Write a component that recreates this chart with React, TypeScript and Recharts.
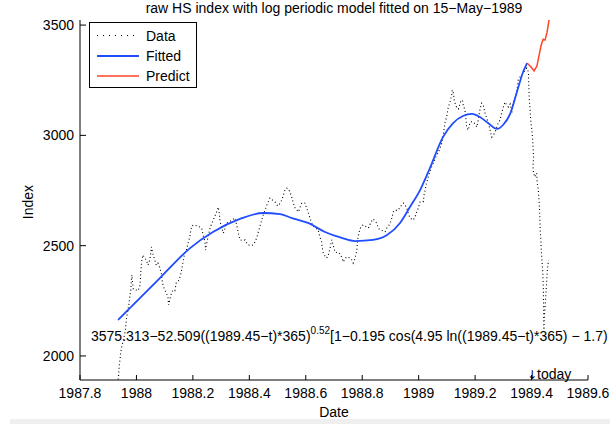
import React from 'react';
import { LineChart, Line, XAxis, YAxis, Legend } from 'recharts';

const FONT = '"Liberation Sans", Arial, Helvetica, sans-serif';

const seriesNames = ['Data', 'Fitted', 'Predict'];
const titleText = 'raw HS index with log periodic model fitted on 15\u2212May\u22121989';
const xTicks = [1987.8, 1988, 1988.2, 1988.4, 1988.6, 1988.8, 1989, 1989.2, 1989.4, 1989.6];
const yTicks = [2000, 2500, 3000, 3500];
const xDomain = [1987.8, 1989.6];
const yDomain = [1891, 3523];

const dataT = [
  1987.935,
  1987.937, 1987.939, 1987.942, 1987.944, 1987.947, 1987.951, 1987.956, 1987.961, 1987.964, 1987.968,
  1987.973, 1987.976, 1987.980, 1987.982, 1987.984, 1987.986, 1987.989, 1987.994, 1988.000, 1988.006,
  1988.012, 1988.014, 1988.015, 1988.017, 1988.019, 1988.023, 1988.029, 1988.035, 1988.041, 1988.047,
  1988.051, 1988.053, 1988.059, 1988.065, 1988.070, 1988.076, 1988.082, 1988.088, 1988.091, 1988.094,
  1988.100, 1988.106, 1988.112, 1988.114, 1988.118, 1988.124, 1988.130, 1988.136, 1988.141, 1988.147,
  1988.153, 1988.159, 1988.165, 1988.171, 1988.177, 1988.183, 1988.189, 1988.192, 1988.196, 1988.204,
  1988.214, 1988.222, 1988.231, 1988.237, 1988.243, 1988.245, 1988.250, 1988.255, 1988.262, 1988.272,
  1988.278, 1988.284, 1988.290, 1988.294, 1988.296, 1988.302, 1988.308, 1988.314, 1988.320, 1988.326,
  1988.332, 1988.340, 1988.349, 1988.355, 1988.361, 1988.367, 1988.376, 1988.385, 1988.391, 1988.396,
  1988.406, 1988.414, 1988.420, 1988.426, 1988.432, 1988.438, 1988.444, 1988.450, 1988.456, 1988.462,
  1988.467, 1988.473, 1988.482, 1988.491, 1988.498, 1988.503, 1988.509, 1988.515, 1988.520, 1988.526,
  1988.532, 1988.538, 1988.544, 1988.550, 1988.556, 1988.562, 1988.568, 1988.574, 1988.580, 1988.586,
  1988.591, 1988.597, 1988.603, 1988.609, 1988.615, 1988.621, 1988.627, 1988.633, 1988.639, 1988.644,
  1988.650, 1988.656, 1988.658, 1988.662, 1988.668, 1988.674, 1988.680, 1988.686, 1988.692, 1988.698,
  1988.704, 1988.710, 1988.715, 1988.721, 1988.727, 1988.733, 1988.739, 1988.745, 1988.751, 1988.757,
  1988.763, 1988.768, 1988.775, 1988.781, 1988.783, 1988.786, 1988.792, 1988.798, 1988.804, 1988.810,
  1988.816, 1988.822, 1988.828, 1988.834, 1988.839, 1988.845, 1988.851, 1988.857, 1988.863, 1988.869,
  1988.875, 1988.881, 1988.887, 1988.893, 1988.899, 1988.905, 1988.910, 1988.916, 1988.922, 1988.928,
  1988.934, 1988.940, 1988.946, 1988.952, 1988.958, 1988.963, 1988.969, 1988.975, 1988.981, 1988.987,
  1988.993, 1988.999, 1989.005, 1989.011, 1989.017, 1989.019, 1989.023, 1989.026, 1989.030, 1989.034,
  1989.040, 1989.046, 1989.052, 1989.058, 1989.064, 1989.070, 1989.076, 1989.082, 1989.087, 1989.090,
  1989.093, 1989.099, 1989.102, 1989.105, 1989.111, 1989.117, 1989.119, 1989.123, 1989.126, 1989.131,
  1989.136, 1989.141, 1989.147, 1989.150, 1989.155, 1989.158, 1989.164, 1989.168, 1989.170, 1989.176,
  1989.182, 1989.188, 1989.194, 1989.200, 1989.206, 1989.211, 1989.217, 1989.223, 1989.229, 1989.235,
  1989.241, 1989.247, 1989.253, 1989.259, 1989.265, 1989.271, 1989.277, 1989.282, 1989.288, 1989.294,
  1989.300, 1989.306, 1989.312, 1989.318, 1989.324, 1989.330, 1989.335, 1989.341, 1989.347, 1989.353,
  1989.359, 1989.365, 1989.371, 1989.377, 1989.383, 1989.389, 1989.390, 1989.392, 1989.395, 1989.397,
  1989.401, 1989.404, 1989.406, 1989.407, 1989.405, 1989.407, 1989.412, 1989.418, 1989.420, 1989.424,
  1989.426, 1989.428, 1989.429, 1989.430, 1989.431, 1989.433, 1989.434, 1989.436, 1989.438, 1989.440,
  1989.441, 1989.442, 1989.442, 1989.443, 1989.443, 1989.443, 1989.444, 1989.445, 1989.448, 1989.451,
  1989.454, 1989.456, 1989.460,
];

const dataV = [
  1893,
  1918, 1955, 1986, 2013, 2036, 2059, 2086, 2118, 2163, 2195,
  2231, 2263, 2299, 2344, 2367, 2335, 2304, 2299, 2299, 2296,
  2317, 2344, 2376, 2408, 2435, 2458, 2444, 2435, 2412, 2435,
  2467, 2494, 2458, 2435, 2412, 2421, 2403, 2376, 2344, 2322,
  2299, 2285, 2263, 2231, 2254, 2285, 2299, 2296, 2331, 2335,
  2353, 2381, 2426, 2467, 2480, 2512, 2539, 2566, 2589, 2594,
  2590, 2586, 2580, 2544, 2517, 2480, 2517, 2548, 2585, 2616,
  2634, 2653, 2675, 2643, 2612, 2580, 2557, 2578, 2603, 2607,
  2611, 2616, 2625, 2594, 2557, 2526, 2524, 2526, 2512, 2503,
  2501, 2503, 2517, 2535, 2562, 2589, 2616, 2643, 2662, 2684,
  2698, 2716, 2707, 2698, 2684, 2680, 2693, 2707, 2725, 2752,
  2761, 2758, 2743, 2721, 2693, 2671, 2662, 2653, 2675, 2693,
  2695, 2693, 2671, 2648, 2625, 2603, 2589, 2580, 2576, 2571,
  2539, 2517, 2494, 2467, 2453, 2444, 2458, 2489, 2526, 2498,
  2471, 2469, 2471, 2462, 2449, 2426, 2440, 2449, 2447, 2444,
  2435, 2421, 2444, 2480, 2517, 2544, 2576, 2589, 2594, 2589,
  2585, 2580, 2598, 2612, 2621, 2610, 2603, 2580, 2571, 2569,
  2566, 2563, 2580, 2589, 2603, 2625, 2653, 2662, 2660, 2662,
  2675, 2684, 2693, 2684, 2671, 2648, 2625, 2621, 2616, 2630,
  2653, 2671, 2698, 2702, 2700, 2730, 2752, 2775, 2793, 2811,
  2838, 2857, 2875, 2893, 2911, 2924, 2943, 2965, 3001, 3024,
  3056, 3083, 3106, 3128, 3151, 3183, 3205, 3192, 3160, 3137,
  3124, 3119, 3146, 3156, 3160, 3137, 3115, 3069, 3033, 3024,
  3060, 3062, 3060, 3051, 3038, 3069, 3115, 3146, 3137, 3101,
  3079, 3056, 3024, 2992, 3002, 3015, 3038, 3056, 3069, 3101,
  3128, 3151, 3137, 3128, 3142, 3101, 3145, 3169, 3192, 3251,
  3264, 3273, 3282, 3296, 3305, 3287, 3237, 3160, 3115, 3069,
  3024, 2979, 2933, 2902, 2857, 2829, 2811, 2829, 2784, 2752,
  2716, 2675, 2639, 2603, 2562, 2526, 2489, 2449, 2412, 2376,
  2335, 2299, 2263, 2222, 2190, 2163, 2118, 2172, 2222, 2285,
  2344, 2390, 2435,
];

const fitT = [
  1987.935, 1988.083, 1988.190, 1988.271, 1988.367, 1988.448, 1988.509, 1988.551, 1988.608, 1988.668,
  1988.728, 1988.775, 1988.838, 1988.888, 1988.934, 1988.969, 1989.005, 1989.040, 1989.086, 1989.122,
  1989.157, 1989.189, 1989.217, 1989.246, 1989.278, 1989.299, 1989.324, 1989.352, 1989.370, 1989.384,
];
const fitV = [
  2163, 2353, 2489, 2562, 2621, 2648, 2643, 2625, 2603, 2562,
  2535, 2521, 2526, 2548, 2603, 2675, 2752, 2852, 2992, 3056,
  3088, 3097, 3083, 3056, 3029, 3047, 3097, 3214, 3287, 3328,
];

const predT = [1989.384, 1989.398, 1989.409, 1989.419, 1989.434, 1989.441, 1989.448, 1989.455, 1989.462];
const predV = [3328, 3310, 3292, 3314, 3409, 3436, 3432, 3468, 3523];

const dataPts = dataT.map((t, i) => ({ t, v: dataV[i] }));
const fitPts = fitT.map((t, i) => ({ t, v: fitV[i] }));
const predPts = predT.map((t, i) => ({ t, v: predV[i] }));

const BLUE = '#1f4dff';
const RED = '#ff4422';

const LegendBox = () => (
  <svg width={108} height={66} style={{ display: 'block' }}>
    <rect x={0.5} y={0.5} width={107} height={65} fill="#fff" stroke="#000" strokeWidth={1} />
    <line x1={8} x2={50} y1={13.5} y2={13.5} stroke="#000" strokeWidth={1} strokeDasharray="1 5" />
    <line x1={8} x2={50} y1={34} y2={34} stroke={BLUE} strokeWidth={2} />
    <line x1={8} x2={50} y1={54} y2={54} stroke={RED} strokeWidth={1.5} />
    <text x={57} y={18.5} fontSize={14} fontFamily={FONT} fill="#000">{seriesNames[0]}</text>
    <text x={57} y={39} fontSize={14} fontFamily={FONT} fill="#000">{seriesNames[1]}</text>
    <text x={57} y={59} fontSize={14} fontFamily={FONT} fill="#000">{seriesNames[2]}</text>
  </svg>
);

export default function App() {
  const tickStyle = { fill: '#000', fontSize: 14, fontFamily: FONT };
  return (
    <div style={{ position: 'absolute', left: 0, top: 0, width: 610, height: 424, background: '#fff', overflow: 'hidden' }}>
      <LineChart
        width={610}
        height={424}
        margin={{ top: 20, right: 22, bottom: 14, left: 20 }}
      >
        <XAxis
          type="number"
          dataKey="t"
          domain={xDomain}
          ticks={xTicks}
          allowDataOverflow
          height={30}
          tickSize={-5}
          tickMargin={13}
          tick={tickStyle}
          axisLine={{ stroke: '#000', strokeWidth: 1 }}
          tickLine={{ stroke: '#000' }}
          tickFormatter={(v) => String(v)}
          interval={0}
        />
        <YAxis
          type="number"
          dataKey="v"
          domain={yDomain}
          ticks={yTicks}
          allowDataOverflow
          width={60}
          tickSize={-6}
          tickMargin={12}
          tick={tickStyle}
          axisLine={{ stroke: '#000', strokeWidth: 1 }}
          tickLine={{ stroke: '#000' }}
          interval={0}
        />
        <Legend
          layout="horizontal"
          verticalAlign="middle"
          align="center"
          content={() => <LegendBox />}
          wrapperStyle={{ position: 'absolute', left: 89, top: 22, width: 108, height: 66 }}
        />
        <Line
          data={dataPts}
          dataKey="v"
          name={seriesNames[0]}
          stroke="#000"
          strokeWidth={1.1}
          strokeDasharray="1 2.6"
          dot={false}
          isAnimationActive={false}
          type="linear"
        />
        <Line
          data={fitPts}
          dataKey="v"
          name={seriesNames[1]}
          stroke={BLUE}
          strokeWidth={1.8}
          dot={false}
          isAnimationActive={false}
          type="monotone"
        />
        <Line
          data={predPts}
          dataKey="v"
          name={seriesNames[2]}
          stroke={RED}
          strokeWidth={1.5}
          dot={false}
          isAnimationActive={false}
          type="linear"
        />
      </LineChart>
      <svg
        width={610}
        height={424}
        style={{ position: 'absolute', left: 0, top: 0, pointerEvents: 'none' }}
      >
        <text x={334} y={13} textAnchor="middle" fontSize={14} fontFamily={FONT} fill="#000">{titleText}</text>
        <text x={91} y={341} fontSize={14} fontFamily={FONT} fill="#000">
          <tspan>3575.313{'\u2212'}52.509((1989.45{'\u2212'}t)*365)</tspan>
          <tspan fontSize={10} dy={-7}>0.52</tspan>
          <tspan dy={7}>[1{'\u2212'}0.195 cos(4.95 ln((1989.45{'\u2212'}t)*365) {'\u2212'} 1.7)</tspan>
        </text>
        <text x={527} y={379} fontSize={14} fontFamily={FONT} fill="#000">
          <tspan fontFamily='"DejaVu Sans", sans-serif' fontSize={12}>{'\u2193'}</tspan>
          <tspan>today</tspan>
        </text>
        <text x={334} y={417} textAnchor="middle" fontSize={14} fontFamily={FONT} fill="#000">Date</text>
        <text x={33} y={202} textAnchor="middle" fontSize={14} fontFamily={FONT} fill="#000" transform="rotate(-90 33 202)">Index</text>
      </svg>
      <div style={{ position: 'absolute', left: 10, top: 419, width: 600, height: 5, background: '#efefef' }} />
    </div>
  );
}
